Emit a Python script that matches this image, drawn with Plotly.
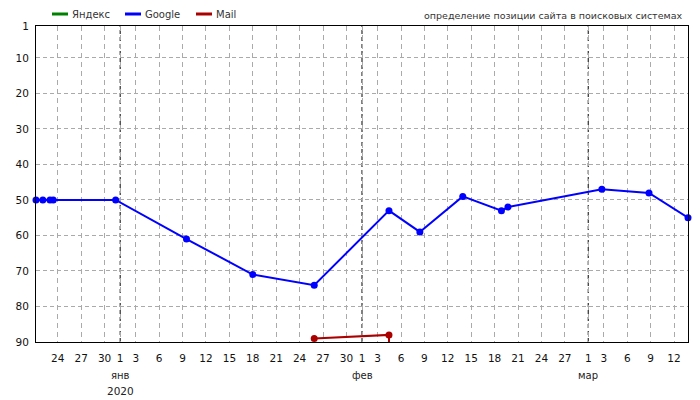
import plotly.graph_objects as go

# ---- data ----
series_names = ["Яндекс", "Google", "Mail"]
series_colors = ["#008000", "#0000ff", "#aa0000"]

yandex_dates = []
yandex_pos = []

google_dates = ["2019-12-21 05:00", "2019-12-22 02:00", "2019-12-23 00:00", "2019-12-23 10:00",
                "2019-12-31 10:00", "2020-01-09 12:00", "2020-01-18 00:00", "2020-01-25 21:00",
                "2020-02-04 11:00", "2020-02-08 10:00", "2020-02-13 22:00", "2020-02-18 21:00",
                "2020-02-19 17:00", "2020-03-02 18:00", "2020-03-08 19:00", "2020-03-13 19:00"]
google_pos = [50, 50, 50, 50, 50, 61, 71, 74, 53, 59, 49, 53, 52, 47, 48, 55]

mail_dates = ["2020-01-25 21:00", "2020-02-04 11:00", "2020-02-04 11:01"]
mail_pos = [89, 88, 100]

tick_dates = ["2019-12-24", "2019-12-27", "2019-12-30", "2020-01-01", "2020-01-03", "2020-01-06",
              "2020-01-09", "2020-01-12", "2020-01-15", "2020-01-18", "2020-01-21", "2020-01-24",
              "2020-01-27", "2020-01-30", "2020-02-01", "2020-02-03", "2020-02-06", "2020-02-09",
              "2020-02-12", "2020-02-15", "2020-02-18", "2020-02-21", "2020-02-24", "2020-02-27",
              "2020-03-01", "2020-03-03", "2020-03-06", "2020-03-09", "2020-03-12"]
tick_labels = ["24", "27", "30", "1", "3", "6", "9", "12", "15", "18", "21", "24", "27", "30",
               "1", "3", "6", "9", "12", "15", "18", "21", "24", "27", "1", "3", "6", "9", "12"]

month_starts = ["2020-01-01", "2020-02-01", "2020-03-01"]
month_labels = ["янв", "фев", "мар"]
year_label = "2020"

y_ticks = [1, 10, 20, 30, 40, 50, 60, 70, 80, 90]
x_range = ["2019-12-21 05:00", "2020-03-13 19:00"]
title_text = "определение позиции сайта в поисковых системах"

FONT = "DejaVu Sans"
W, H = 692, 392  # page body has an 8px default margin
ML, MR, MT, MB = 28, 12, 18, 58
PW, PH = W - ML - MR, H - MT - MB

def px_to_paper_x(px):
    return (px - ML) / PW

def px_to_paper_y(py):
    return 1 + (MT - py) / PH

series = [(yandex_dates, yandex_pos), (google_dates, google_pos), (mail_dates, mail_pos)]

fig = go.Figure()
for i, (xs, ys) in enumerate(series):
    fig.add_trace(go.Scatter(x=xs, y=ys, name=series_names[i], mode="lines+markers",
                             showlegend=False,
                             line=dict(color=series_colors[i], width=2), marker=dict(size=7),
                             cliponaxis=(series_names[i] != "Google")))

shapes = []
for d in month_starts:
    shapes.append(dict(type="line", xref="x", yref="paper", x0=d, x1=d, y0=0, y1=1,
                       line=dict(color="white", width=1), layer="between"))
    shapes.append(dict(type="line", xref="x", yref="paper", x0=d, x1=d, y0=0, y1=1,
                       line=dict(color="black", width=1, dash="4px,3px"), layer="between"))

annotations = []
# legend drawn as short line keys + labels (layout positions in figure pixels)
legend_key_x = [44, 117, 188]
legend_y = 6
for i, name in enumerate(series_names):
    kx = legend_key_x[i]
    shapes.append(dict(type="line", xref="paper", yref="paper",
                       x0=px_to_paper_x(kx), x1=px_to_paper_x(kx + 16),
                       y0=px_to_paper_y(legend_y), y1=px_to_paper_y(legend_y),
                       line=dict(color=series_colors[i], width=3)))
    annotations.append(dict(x=px_to_paper_x(kx + 18), xref="paper", y=px_to_paper_y(legend_y),
                            yref="paper", text=name, showarrow=False, xanchor="left",
                            yanchor="middle", font=dict(family=FONT, size=10, color="#333")))

for d, m in zip(month_starts, month_labels):
    annotations.append(dict(x=d, xref="x", y=0, yref="paper", yshift=-33, text=m,
                            showarrow=False, xanchor="center", yanchor="middle",
                            font=dict(family=FONT, size=10, color="#222")))
annotations.append(dict(x=month_starts[0], xref="x", y=0, yref="paper", yshift=-49, text=year_label,
                        showarrow=False, xanchor="center", yanchor="middle",
                        font=dict(family=FONT, size=10.5, color="#222")))
annotations.append(dict(x=1, xref="paper", y=1, yref="paper", yshift=11, xshift=-4, text=title_text,
                        showarrow=False, xanchor="right", yanchor="middle",
                        font=dict(family=FONT, size=9.5, color="#333")))

fig.update_layout(
    width=W, height=H,
    margin=dict(l=ML, r=MR, t=MT, b=MB, autoexpand=False),
    paper_bgcolor="white", plot_bgcolor="white",
    font=dict(family=FONT, size=10.5, color="#111"),
    shapes=shapes, annotations=annotations,
    showlegend=False,
    xaxis=dict(type="date", range=x_range, tickmode="array", tickvals=tick_dates, ticktext=tick_labels,
               showgrid=True, gridcolor="#aaaaaa", gridwidth=1, griddash="5px,4px",
               showline=True, linecolor="black", linewidth=1, mirror=True, ticks="",
               zeroline=False, tickfont=dict(family=FONT, size=10.5, color="#111"),
               ticklabelstandoff=6),
    yaxis=dict(range=[90, 1], tickmode="array", tickvals=y_ticks,
               showgrid=True, gridcolor="#aaaaaa", gridwidth=1, griddash="4px,3px",
               showline=True, linecolor="black", linewidth=1, mirror=True, ticks="",
               zeroline=False, tickfont=dict(family=FONT, size=10.5, color="#111"),
               ticklabelstandoff=4),
)

fig.write_html("out.html")
